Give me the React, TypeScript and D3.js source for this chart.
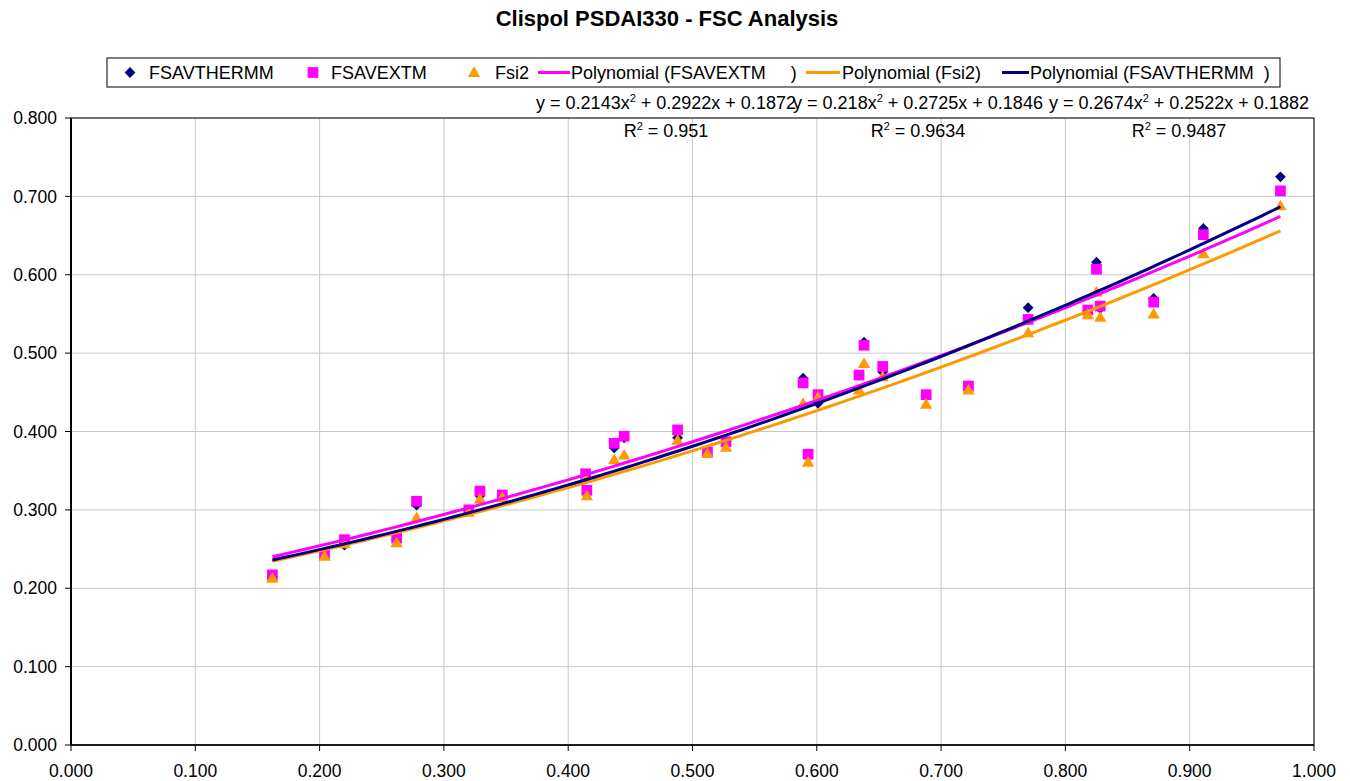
import React from "react";
import * as d3 from "d3";

// ---- data ----
const xValues = [0.162, 0.204, 0.220, 0.262, 0.278, 0.320, 0.329, 0.347, 0.414, 0.415, 0.437, 0.445, 0.488, 0.512, 0.527, 0.589, 0.593, 0.601, 0.634, 0.638, 0.653, 0.688, 0.722, 0.770, 0.818, 0.825, 0.828, 0.871, 0.911, 0.973];
const fsavthermm = [0.215, 0.243, 0.255, 0.262, 0.306, 0.299, 0.318, 0.318, 0.343, 0.322, 0.379, 0.392, 0.392, 0.376, 0.387, 0.468, 0.371, 0.436, 0.472, 0.514, 0.476, 0.446, 0.457, 0.558, 0.553, 0.616, 0.557, 0.570, 0.659, 0.725];
const fsavextm = [0.217, 0.243, 0.262, 0.264, 0.311, 0.300, 0.324, 0.319, 0.346, 0.325, 0.385, 0.394, 0.402, 0.374, 0.387, 0.462, 0.371, 0.447, 0.472, 0.510, 0.483, 0.447, 0.458, 0.543, 0.555, 0.607, 0.560, 0.565, 0.651, 0.707];
const fsi2 = [0.213, 0.241, 0.257, 0.258, 0.290, 0.297, 0.314, 0.316, 0.340, 0.318, 0.364, 0.370, 0.389, 0.372, 0.380, 0.436, 0.361, 0.444, 0.453, 0.487, 0.470, 0.435, 0.453, 0.526, 0.549, 0.578, 0.546, 0.550, 0.627, 0.688];

// polynomial trendline coefficients [a, b, c] for y = a x^2 + b x + c
const fitExtm = [0.2143, 0.2922, 0.1872];
const fitFsi2 = [0.218, 0.2725, 0.1846];
const fitThermm = [0.2674, 0.2522, 0.1882];
const r2Values = [0.951, 0.9634, 0.9487];

const xTicks = [0, 0.1, 0.2, 0.3, 0.4, 0.5, 0.6, 0.7, 0.8, 0.9, 1.0];
const yTicks = [0, 0.1, 0.2, 0.3, 0.4, 0.5, 0.6, 0.7, 0.8];

const title = "Clispol PSDAI330 - FSC Analysis";
const seriesNames = ["FSAVTHERMM", "FSAVEXTM", "Fsi2"];
const NB = "\u00A0";
const trendNames = [
  "Polynomial (FSAVEXTM" + NB.repeat(5) + ")",
  "Polynomial (Fsi2)",
  "Polynomial (FSAVTHERMM" + NB.repeat(2) + ")",
];

const NAVY = "#000080";
const MAGENTA = "#FF00FF";
const ORANGE = "#FF9900";
const FONT = "'Liberation Sans', Arial, Helvetica, sans-serif";

const W = 1350;
const H = 781;
const P = { left: 71, right: 1314, top: 118, bottom: 745 };

export default function App() {
  const x = d3.scaleLinear().domain([0, 1]).range([P.left, P.right]);
  const y = d3.scaleLinear().domain([0, 0.8]).range([P.bottom, P.top]);
  const fmt = d3.format(".3f");

  const diamondPath = d3.symbol().type(d3.symbolSquare).size(58)() as string;
  const squarePath = d3.symbol().type(d3.symbolSquare).size(115)() as string;
  const triPath = d3.symbol().type(d3.symbolTriangle).size(66)() as string;

  const xMin = d3.min(xValues) as number;
  const xMax = d3.max(xValues) as number;
  const samples = d3.range(0, 101).map((i) => xMin + ((xMax - xMin) * i) / 100);
  const line = d3
    .line<number[]>()
    .x((d) => x(d[0]))
    .y((d) => y(d[1]));
  const curve = (c: number[]) => line(samples.map((t) => [t, c[0] * t * t + c[1] * t + c[2]])) as string;

  const trends = [
    { c: fitExtm, color: MAGENTA },
    { c: fitFsi2, color: ORANGE },
    { c: fitThermm, color: NAVY },
  ];

  const eqCenters = [666, 918, 1179];

  return (
    <svg
      width={W}
      height={H}
      style={{ position: "absolute", left: 0, top: 0, background: "#fff" }}
      fontFamily={FONT}
    >
      <rect x={0} y={0} width={W} height={H} fill="#fff" />
      <text x={667} y={26} textAnchor="middle" fontSize={22} fontWeight="bold" fill="#000">
        {title}
      </text>

      {/* gridlines */}
      {yTicks.map((t) => (
        <line key={"gy" + t} x1={P.left} x2={P.right} y1={y(t)} y2={y(t)} stroke="#c8c8c8" strokeWidth={1} />
      ))}
      {xTicks.map((t) => (
        <line key={"gx" + t} x1={x(t)} x2={x(t)} y1={P.top} y2={P.bottom} stroke="#c8c8c8" strokeWidth={1} />
      ))}
      <rect x={P.left} y={P.top} width={P.right - P.left} height={P.bottom - P.top} fill="none" stroke="#000" strokeWidth={1} />

      {/* axes */}
      <line x1={P.left} x2={P.left} y1={P.top} y2={P.bottom} stroke="#000" strokeWidth={2} />
      <line x1={P.left} x2={P.right} y1={P.bottom} y2={P.bottom} stroke="#000" strokeWidth={1.5} />
      {yTicks.map((t) => (
        <g key={"ty" + t}>
          <line x1={P.left - 6} x2={P.left} y1={y(t)} y2={y(t)} stroke="#000" strokeWidth={1} />
          <text x={57} y={y(t)} dy="0.35em" textAnchor="end" fontSize={17.5} fill="#000">
            {fmt(t)}
          </text>
        </g>
      ))}
      {xTicks.map((t) => (
        <g key={"tx" + t}>
          <line x1={x(t)} x2={x(t)} y1={P.bottom} y2={P.bottom + 6} stroke="#000" strokeWidth={1} />
          <text x={x(t)} y={777} textAnchor="middle" fontSize={17.5} fill="#000">
            {fmt(t)}
          </text>
        </g>
      ))}

      {/* markers */}
      {xValues.map((xv, i) => (
        <path key={"d" + i} d={diamondPath} transform={`translate(${x(xv)},${y(fsavthermm[i])}) rotate(45)`} fill={NAVY} />
      ))}
      {xValues.map((xv, i) => (
        <path key={"s" + i} d={squarePath} transform={`translate(${x(xv)},${y(fsavextm[i])})`} fill={MAGENTA} />
      ))}
      {xValues.map((xv, i) => (
        <path key={"t" + i} d={triPath} transform={`translate(${x(xv)},${y(fsi2[i]) + 1})`} fill={ORANGE} />
      ))}

      {/* trendlines */}
      {trends.map((tr, i) => (
        <path key={"tr" + i} d={curve(tr.c)} fill="none" stroke={tr.color} strokeWidth={3} />
      ))}

      {/* trendline labels */}
      {trends.map((tr, i) => (
        <g key={"eq" + i} fontSize={18} fill="#000">
          <text x={eqCenters[i]} y={109} textAnchor="middle">
            {`y = ${tr.c[0]}x`}
            <tspan fontSize={11} dy={-7}>2</tspan>
            <tspan dy={7}>{` + ${tr.c[1]}x + ${tr.c[2]}`}</tspan>
          </text>
          <text x={eqCenters[i]} y={137} textAnchor="middle">
            {"R"}
            <tspan fontSize={11} dy={-7}>2</tspan>
            <tspan dy={7}>{` = ${r2Values[i]}`}</tspan>
          </text>
        </g>
      ))}

      {/* legend */}
      <rect x={107} y={58} width={1173} height={29} fill="#fff" stroke="#000" strokeWidth={1} />
      <g fontSize={18} fill="#000">
        <path d={diamondPath} transform="translate(130,72.5) rotate(45)" fill={NAVY} />
        <text x={149} y={79}>{seriesNames[0]}</text>
        <path d={squarePath} transform="translate(313,72.5)" fill={MAGENTA} />
        <text x={331} y={79}>{seriesNames[1]}</text>
        <path d={triPath} transform="translate(474,73.5)" fill={ORANGE} />
        <text x={495} y={79}>{seriesNames[2]}</text>
        <line x1={538} x2={570} y1={72.5} y2={72.5} stroke={MAGENTA} strokeWidth={3} />
        <text x={571} y={79}>{trendNames[0]}</text>
        <line x1={806} x2={840} y1={72.5} y2={72.5} stroke={ORANGE} strokeWidth={3} />
        <text x={842} y={79}>{trendNames[1]}</text>
        <line x1={1002} x2={1029} y1={72.5} y2={72.5} stroke={NAVY} strokeWidth={3} />
        <text x={1030} y={79}>{trendNames[2]}</text>
      </g>
    </svg>
  );
}
